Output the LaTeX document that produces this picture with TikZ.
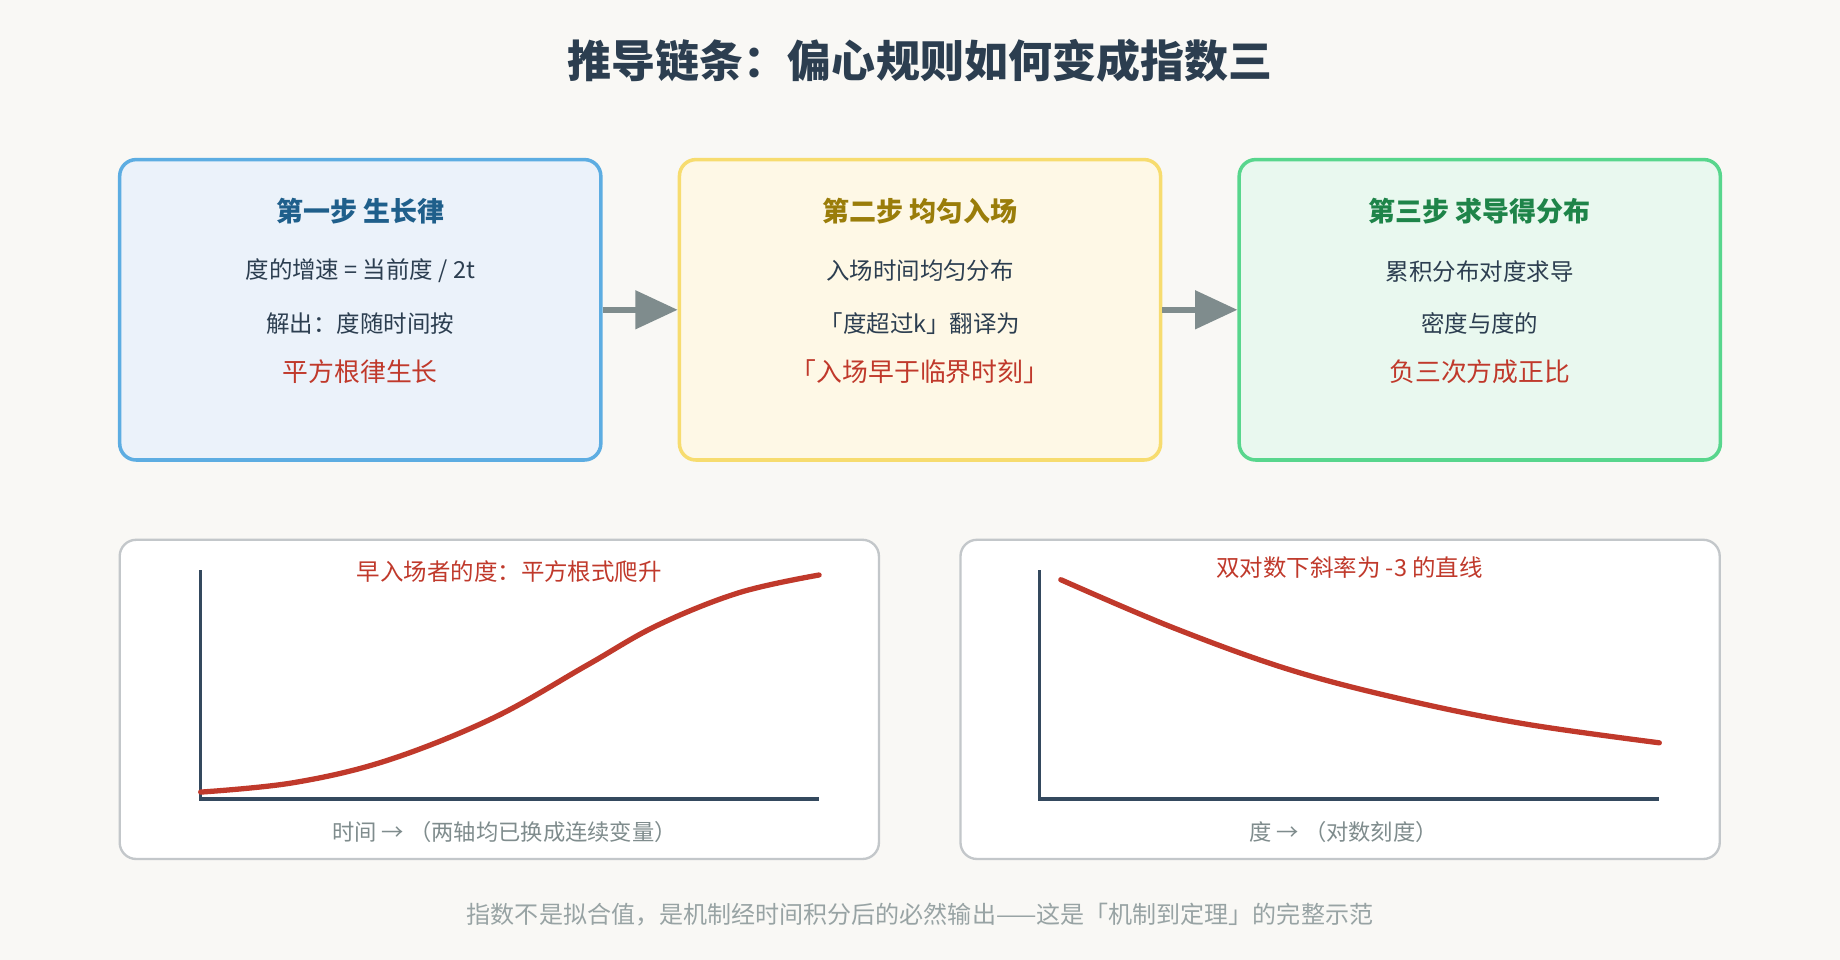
\documentclass[tikz,border=0pt]{standalone}
\usepackage{fontspec}
\setmainfont{Noto Sans CJK SC}
\usetikzlibrary{arrows.meta, positioning}
\definecolor{bgpaper}{HTML}{F9F8F5}
\definecolor{inkdark}{HTML}{2C3E50}
\definecolor{inkred}{HTML}{C0392B}
\definecolor{inkgray}{HTML}{7F8C8D}
\definecolor{stepblue}{HTML}{5DADE2}
\definecolor{stepbluebg}{HTML}{EBF2FA}
\definecolor{stepbluetx}{HTML}{1F5F8B}
\definecolor{stepyel}{HTML}{F7DC6F}
\definecolor{stepyelbg}{HTML}{FEF8E6}
\definecolor{stepyeltx}{HTML}{9A7D0A}
\definecolor{stepgrn}{HTML}{58D68D}
\definecolor{stepgrnbg}{HTML}{E9F8EF}
\definecolor{stepgrntx}{HTML}{1E8449}
\definecolor{panelline}{HTML}{C3C7CA}
\definecolor{axiscol}{HTML}{34495E}
\tikzset{
  stepbox/.style={draw, line width=3pt, rounded corners=14pt, minimum width=410pt, minimum height=256pt},
  panel/.style={draw=panelline, fill=white, line width=2pt, rounded corners=14pt, minimum width=647pt, minimum height=272pt},
  steptitle/.style={font=\fontsize{23}{27}\selectfont\bfseries},
  steptext/.style={font=\fontsize{20}{24}\selectfont, text=inkdark},
  stepred/.style={font=\fontsize{22}{26}\selectfont, text=inkred},
  flow/.style={draw=inkgray, line width=5pt, -{Triangle[length=36pt, width=32pt]}},
  axis/.style={draw=axiscol, line width=3pt},
  curve/.style={draw=inkred, line width=4.5pt, line cap=round},
  axiscap/.style={font=\fontsize{19}{23}\selectfont, text=inkgray}
}
\begin{document}
\begin{tikzpicture}[x=1pt, y=-1pt]
  \useasboundingbox[fill=bgpaper] (0,0) rectangle (1568,818);
  \node[font=\fontsize{37.5}{44}\selectfont\bfseries, text=inkdark] (title) at (784,52) {推导链条：偏心规则如何变成指数三};

  % three steps
  \node[stepbox, draw=stepblue, fill=stepbluebg] (s1) at (307,264) {};
  \node[stepbox, draw=stepyel, fill=stepyelbg] (s2) at (784,264) {};
  \node[stepbox, draw=stepgrn, fill=stepgrnbg] (s3) at (1261,264) {};

  \node[steptitle, text=stepbluetx] (s1t) at (307,180) {第一步 生长律};
  \node[steptext] (s1a) at (307,231) {度的增速 = 当前度 / 2t};
  \node[steptext] (s1b) at (307,276) {解出：度随时间按};
  \node[stepred] (s1c) at (307,317) {平方根律生长};

  \node[steptitle, text=stepyeltx] (s2t) at (784,180) {第二步 均匀入场};
  \node[steptext] (s2a) at (784,231) {入场时间均匀分布};
  \node[steptext] (s2b) at (784,276) {「度超过k」翻译为};
  \node[stepred] (s2c) at (784,317) {「入场早于临界时刻」};

  \node[steptitle, text=stepgrntx] (s3t) at (1261,180) {第三步 求导得分布};
  \node[steptext] (s3a) at (1261,231) {累积分布对度求导};
  \node[steptext] (s3b) at (1261,276) {密度与度的};
  \node[stepred] (s3c) at (1261,317) {负三次方成正比};

  \draw[flow] (s1.east) -- (s2.west);
  \draw[flow] (s2.east) -- (s3.west);

  % two panels
  \node[panel] (p1) at (425.5,596) {};
  \node[panel] (p2) at (1142,596) {};

  \coordinate (o1) at (171,681);
  \draw[axis] (171,486) -- (o1) -- (698,681);
  \draw[curve] plot[smooth, tension=0.6] coordinates {(171,675) (250,667) (330,648) (420,612) (500,567) (560,533) (630,505) (698,490)};
  \node[font=\fontsize{20}{24}\selectfont, text=inkred] (p1t) at (434,487) {早入场者的度：平方根式爬升};
  \node[axiscap] (p1c) at (430,709) {时间 → （两轴均已换成连续变量）};

  \coordinate (o2) at (886,681);
  \draw[axis] (886,486) -- (o2) -- (1414,681);
  \draw[curve] plot[smooth, tension=0.6] coordinates {(904,494) (1000,535) (1100,571) (1200,597) (1300,617) (1414,633)};
  \node[font=\fontsize{20}{24}\selectfont, text=inkred] (p2t) at (1150,484) {双对数下斜率为 -3 的直线};
  \node[axiscap] (p2c) at (1145,709) {度 → （对数刻度）};

  \node[font=\fontsize{20.5}{24}\selectfont, text=inkgray!80] (note) at (784,779) {指数不是拟合值，是机制经时间积分后的必然输出——这是「机制到定理」的完整示范};
\end{tikzpicture}
\end{document}
